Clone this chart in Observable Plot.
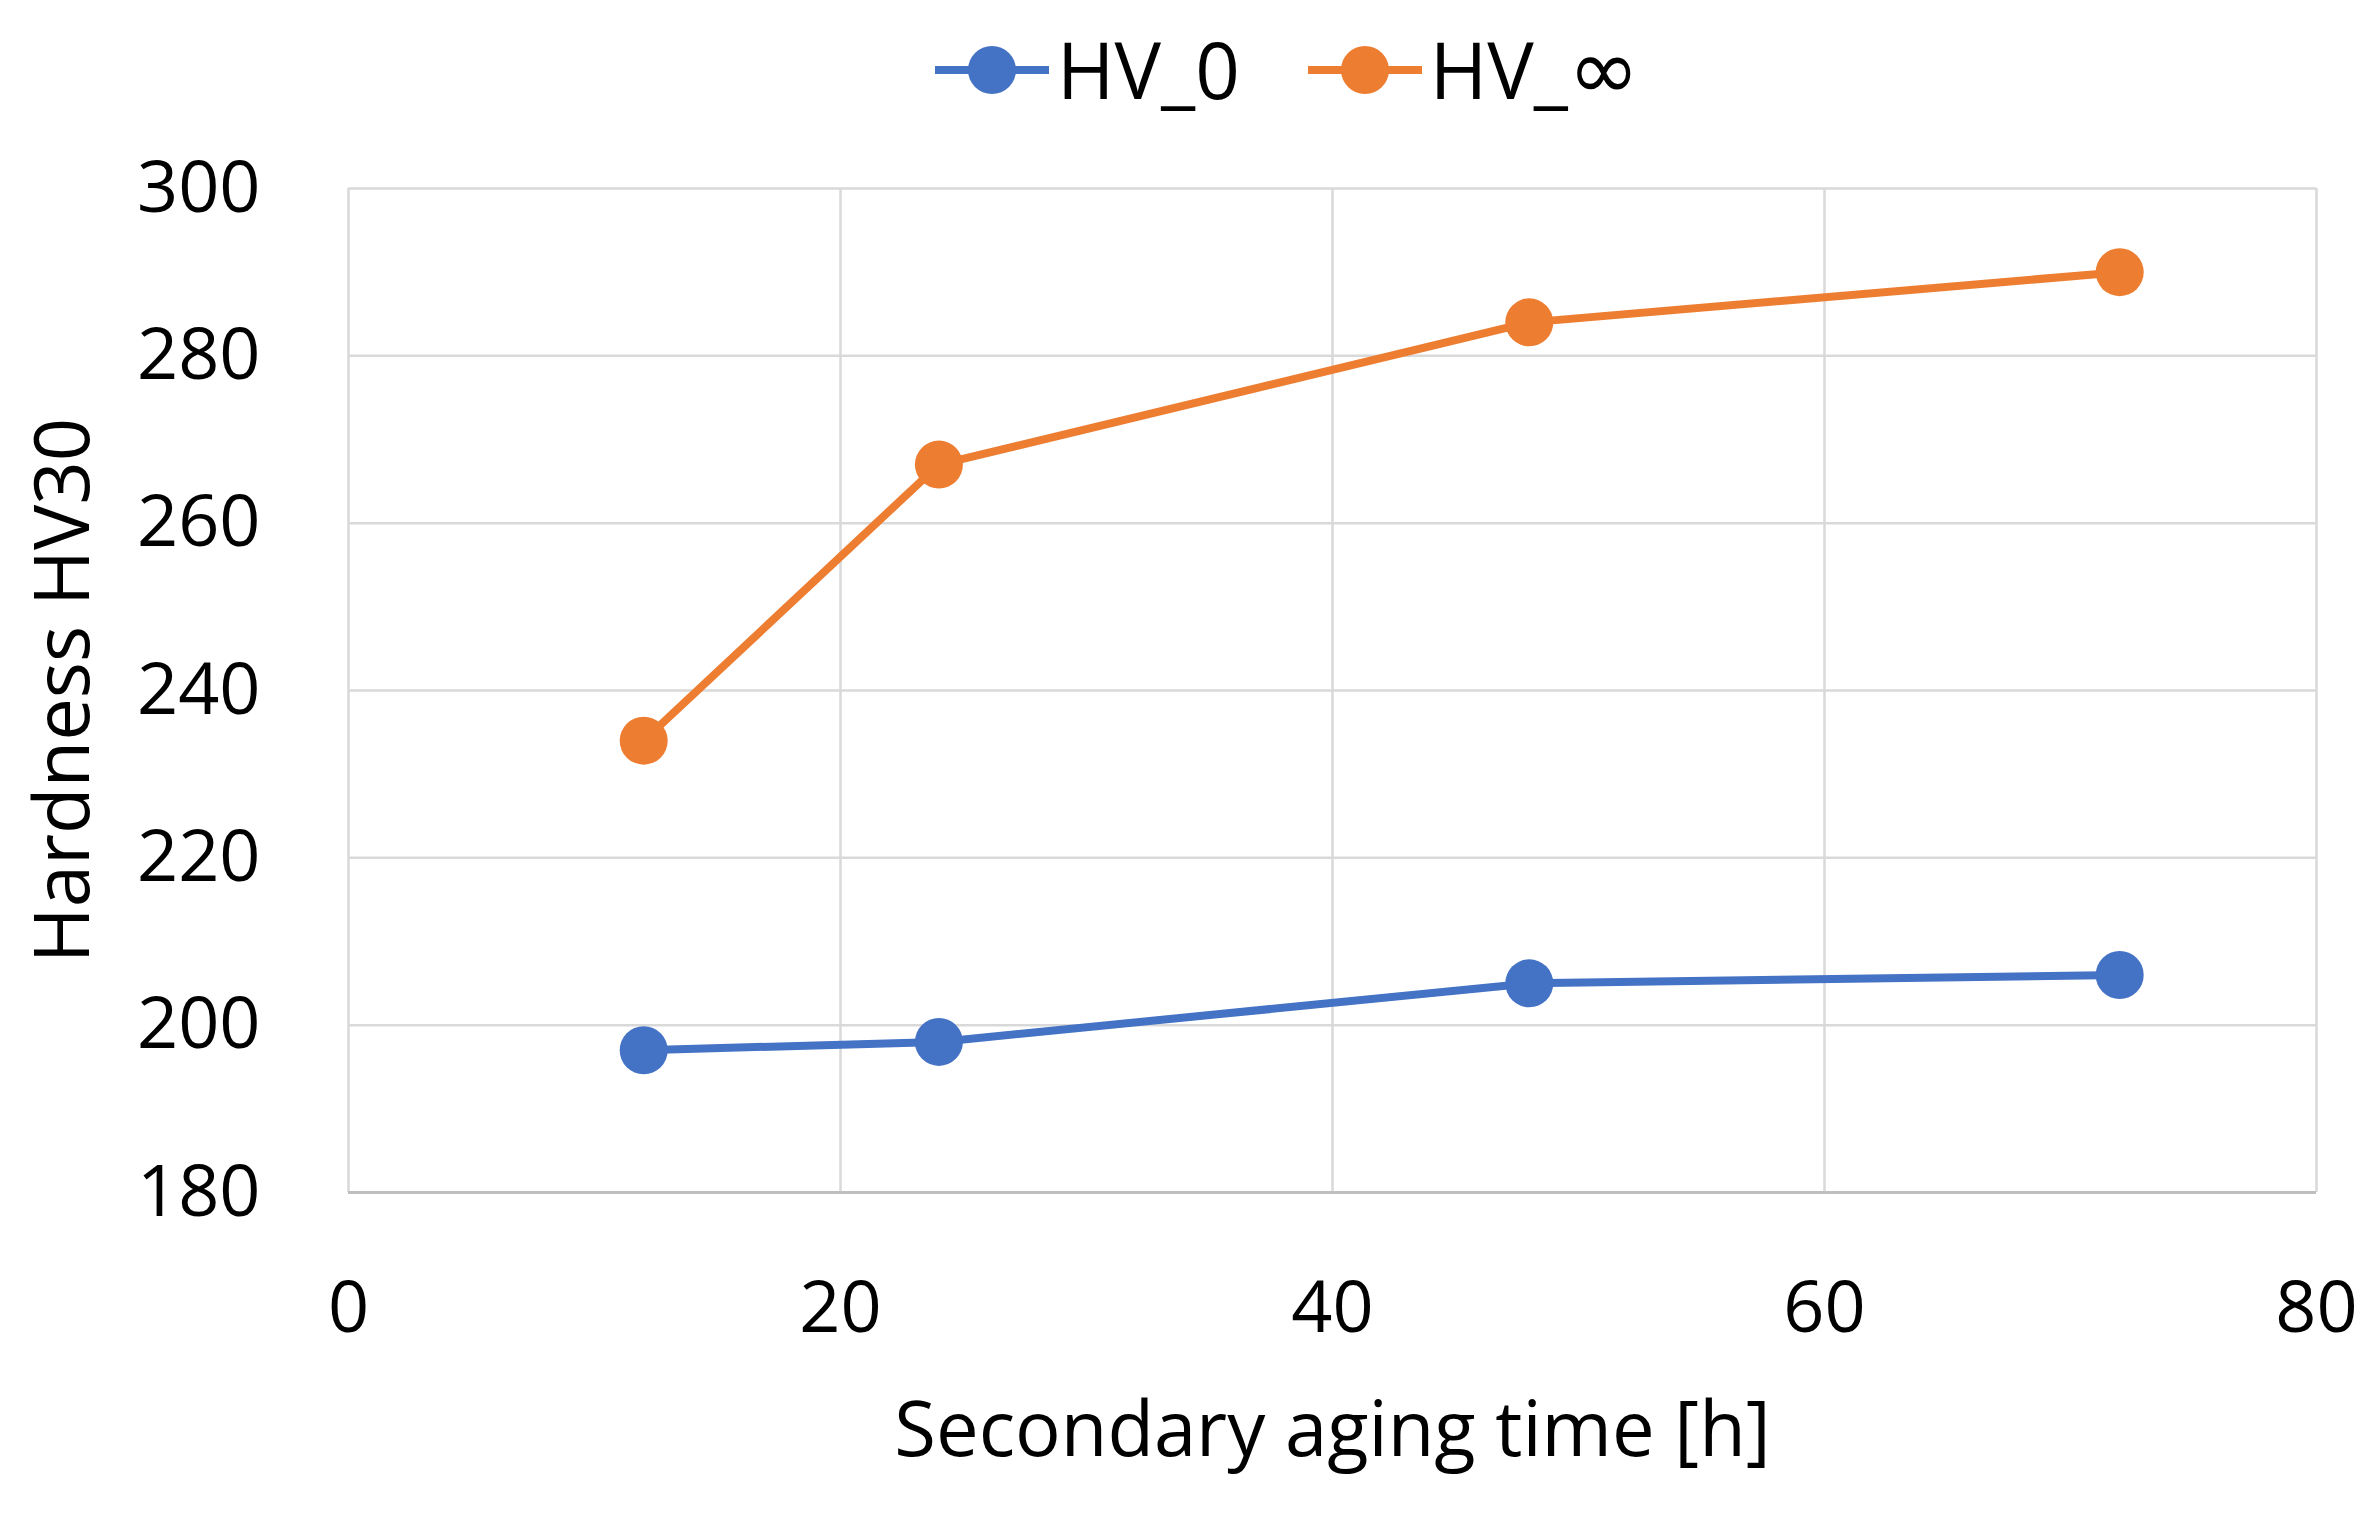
<!DOCTYPE html>
<html>
<head>
<meta charset="utf-8">
<script src="https://cdn.jsdelivr.net/npm/d3@7"></script>
<script src="https://cdn.jsdelivr.net/npm/@observablehq/plot@0.6"></script>
<style>
  html, body { margin: 0; padding: 0; background: #fff; }
  body { width: 2375px; height: 1517px; overflow: hidden; font-family: "Open Sans", sans-serif; }
  #legend { height: 140px; display: flex; align-items: center; padding-left: 935px; box-sizing: border-box; }
  .item { display: flex; align-items: center; margin-right: 68px; font-size: 78px; color: #000; line-height: 1.3; }
  .item svg { margin-right: 8px; }
  .big { font-family: "DejaVu Sans", sans-serif; font-size: 1.1em; line-height: 1; }
  #chart svg { display: block; }
</style>
</head>
<body>
<div id="legend"></div>
<div id="chart"></div>
<script>
const hours = [12, 24, 48, 72];
const hv0 = [197, 198, 205, 206];
const hvInf = [234, 267, 284, 290];
const seriesNames = ["HV_0", "HV_\u221E"];
const seriesColors = ["#4472C4", "#ED7D31"];
const xTicks = [0, 20, 40, 60, 80];
const yTicks = [180, 200, 220, 240, 260, 280, 300];
const xLabel = "Secondary aging time [h]";
const yLabel = "Hardness HV30";

const data = [
  ...hours.map((h, i) => ({series: seriesNames[0], x: h, y: hv0[i]})),
  ...hours.map((h, i) => ({series: seriesNames[1], x: h, y: hvInf[i]}))
];

// legend
const legend = document.getElementById("legend");
seriesNames.forEach((name, i) => {
  const item = document.createElement("div");
  item.className = "item";
  const label = name.replace("\u221E", '<span class="big">\u221E</span>');
  item.innerHTML = `<svg width="114" height="52"><line x1="0" y1="26" x2="114" y2="26" stroke="${seriesColors[i]}" stroke-width="8"/><circle cx="57" cy="26" r="24" fill="${seriesColors[i]}"/></svg><span>${label}</span>`;
  legend.appendChild(item);
});

const grid = {stroke: "#d9d9d9", strokeOpacity: 1, strokeWidth: 2.5};

const chart = Plot.plot({
  width: 2375,
  height: 1377,
  marginTop: 48,
  marginBottom: 325,
  marginLeft: 348,
  marginRight: 59,
  style: {fontFamily: "Open Sans", fontSize: "72px", color: "#000", background: "#fff", overflow: "visible"},
  x: {domain: [0, 80]},
  y: {domain: [180, 300]},
  color: {domain: seriesNames, range: seriesColors},
  marks: [
    Plot.gridX(xTicks, grid),
    Plot.gridY(yTicks, grid),
    Plot.ruleY([180], {stroke: "#bfbfbf", strokeWidth: 3}),
    Plot.axisX(xTicks, {tickSize: 0, tickPadding: 88, label: null, fill: "#000"}),
    Plot.axisY(yTicks, {tickSize: 0, tickPadding: 88, label: null, fill: "#000"}),
    Plot.line(data, {x: "x", y: "y", z: "series", stroke: "series", strokeWidth: 8}),
    Plot.dot(data, {x: "x", y: "y", fill: "series", r: 24}),
    Plot.text([xLabel], {text: d => d, frameAnchor: "bottom", dy: 239, textAnchor: "middle", lineAnchor: "middle", fontSize: 76, fill: "#000"}),
    Plot.text([yLabel], {text: d => d, frameAnchor: "left", dx: -284, rotate: -90, textAnchor: "middle", lineAnchor: "middle", fontSize: 76, fill: "#000"})
  ]
});
document.getElementById("chart").appendChild(chart);
</script>
</body>
</html>
